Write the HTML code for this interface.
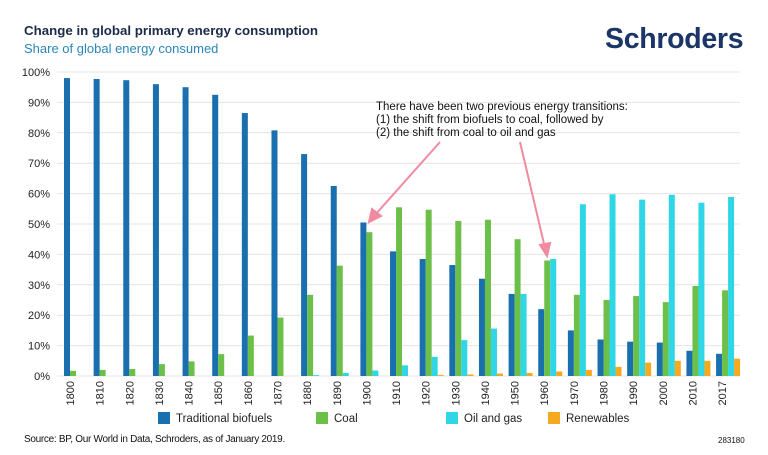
<!DOCTYPE html>
<html><head><meta charset="utf-8"><style>
body{margin:0;background:#fff;width:768px;height:450px;overflow:hidden;font-family:"Liberation Sans",sans-serif}
</style></head><body>
<svg width="768" height="450" xmlns="http://www.w3.org/2000/svg" font-family="Liberation Sans, sans-serif">
<text x="24" y="35" font-size="13.3" font-weight="bold" fill="#1b2a4a">Change in global primary energy consumption</text>
<text x="24" y="53" font-size="13" fill="#2a86b8">Share of global energy consumed</text>
<text x="605" y="48" font-size="28.5" font-weight="bold" fill="#1b3566" letter-spacing="-0.3">Schroders</text>
<g id="grid" stroke="#e4e4e4" stroke-width="1"></g>
<g id="yl" font-size="11" fill="#222" text-anchor="end"></g>
<g id="bars"></g>
<g id="xl" font-size="11" fill="#222"></g>
<text x="376" y="110" font-size="11.5" fill="#111">There have been two previous energy transitions:</text>
<text x="376" y="123" font-size="11.5" fill="#111">(1) the shift from biofuels to coal, followed by</text>
<text x="376" y="136" font-size="11.5" fill="#111">(2) the shift from coal to oil and gas</text>
<g stroke="#f08aa0" stroke-width="2" fill="#f08aa0">
<line x1="440" y1="142" x2="375" y2="215"/><polygon points="369,222 372,209 381,216"/>
<line x1="520" y1="142" x2="545" y2="248"/><polygon points="547,256 540,245 550,243"/>
</g>
<rect x="158" y="412" width="12" height="12" fill="#1a6fae"/><text x="176" y="422" font-size="11.5" fill="#222">Traditional biofuels</text>
<rect x="316" y="412" width="12" height="12" fill="#6cc04a"/><text x="334" y="422" font-size="11.5" fill="#222">Coal</text>
<rect x="446" y="412" width="12" height="12" fill="#2fd6e6"/><text x="464" y="422" font-size="11.5" fill="#222">Oil and gas</text>
<rect x="548" y="412" width="12" height="12" fill="#f5a91e"/><text x="566" y="422" font-size="11.5" fill="#222">Renewables</text>
<text x="24" y="442" font-size="10" fill="#111" letter-spacing="-0.3">Source: BP, Our World in Data, Schroders, as of January 2019.</text>
<text x="718" y="443" font-size="8" fill="#111">283180</text>
</svg>
<script>
const ns="http://www.w3.org/2000/svg";
function el(p,t,a,txt){const e=document.createElementNS(ns,t);for(const k in a)e.setAttribute(k,a[k]);if(txt!==undefined)e.textContent=txt;document.getElementById(p).appendChild(e);}
const y0=376,s=3.04;
for(let i=0;i<=10;i++){const y=y0-i*10*s;el("grid","line",{x1:57,x2:740,y1:y,y2:y});el("yl","text",{x:50,y:y+4},i*10+"%");}
const yrs=[1800,1810,1820,1830,1840,1850,1860,1870,1880,1890,1900,1910,1920,1930,1940,1950,1960,1970,1980,1990,2000,2010,2017];
const d=[[98,97.7,97.3,96,95,92.5,86.5,80.8,73,62.5,50.5,41,38.5,36.5,32,27,22,15,12,11.3,11,8.3,7.3],
[1.7,2,2.3,3.9,4.8,7.2,13.3,19.2,26.7,36.3,47.3,55.5,54.7,51,51.4,45,38,26.7,25,26.3,24.3,29.6,28.2],
[0,0,0,0,0,0,0,0,0.3,1,1.8,3.5,6.3,11.8,15.6,27,38.5,56.5,59.8,58,59.6,57,58.9],
[0,0,0,0,0,0,0,0,0,0,0,0,0.3,0.5,0.8,1,1.5,2,3,4.4,5,5,5.7]];
const c=["#1a6fae","#6cc04a","#2fd6e6","#f5a91e"];
yrs.forEach((yr,i)=>{const x=64+i*29.64;
for(let k=0;k<4;k++){const h=d[k][i]*s;if(h>0)el("bars","rect",{x:x+k*6,y:y0-h,width:6,height:h,fill:c[k]});}
el("xl","text",{x:0,y:0,transform:`translate(${x+10},381) rotate(-90)`,"text-anchor":"end"},yr);});
</script>
</body></html>
